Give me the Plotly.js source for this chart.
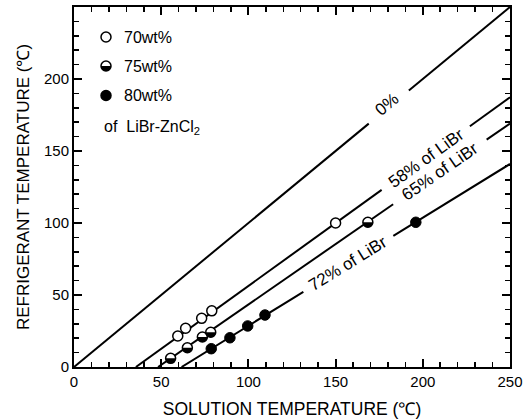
<!DOCTYPE html>
<html>
<head>
<meta charset="utf-8">
<script src="https://cdn.plot.ly/plotly-3.0.1.min.js"></script>
<style>html,body{margin:0;padding:0;background:#fff;}#chart{width:531px;height:419px;}</style>
</head>
<body>
<div id="chart"></div>
<script>
// ---- Data ----
// Equilibrium lines (solution temperature vs refrigerant temperature), null = gap for label
const line0X  = [0, 169, null, 192, 250];
const line0Y  = [0, 169, null, 192, 250];
const line58X = [35.5, 176.4, null, 227, 250];
const line58Y = [0, 123, null, 167.2, 187.3];
const line65X = [48.2, 183, null, 236.6, 250];
const line65Y = [0, 113, null, 157.9, 169];
const line72X = [61.7, 131.5, null, 183.1, 250];
const line72Y = [0, 52.2, null, 91, 141];

// Measured points
const sol70 = [59.5, 64, 73.2, 79, 150];
const ref70 = [21.5, 26.9, 33.8, 39, 100];
const sol75 = [55.4, 65, 73.6, 78.4, 168.5];
const ref75 = [6, 13.4, 20.8, 24.1, 100.5];
const sol80 = [78.7, 89.4, 99.6, 109.5, 196];
const ref80 = [12.7, 20.3, 28.5, 36.1, 100.5];

// Line labels
const lineLabels = ['0%', '58% of LiBr', '65% of LiBr', '72% of LiBr'];
const lineLabelX = [179.5, 201.7, 210, 157.3];
const lineLabelY = [182, 145.1, 135.6, 71.6];
const lineLabelAngle = [-39.5, -35.8, -34.7, -31.7];

// Legend
const legendNames = ['70wt%', '75wt%', '80wt%'];
const legendNote = 'of&nbsp; LiBr-ZnCl<sub>2</sub>';

const tickVals = [0, 50, 100, 150, 200, 250];

// ---- Build chart ----
const FONT = 'Liberation Sans, Arial, sans-serif';
const lineStyle = {color: 'black', width: 2};
const traces = [
  {x: line0X, y: line0Y, mode: 'lines', line: lineStyle, connectgaps: false, hoverinfo: 'skip'},
  {x: line58X, y: line58Y, mode: 'lines', line: lineStyle, connectgaps: false, hoverinfo: 'skip'},
  {x: line65X, y: line65Y, mode: 'lines', line: lineStyle, connectgaps: false, hoverinfo: 'skip'},
  {x: line72X, y: line72Y, mode: 'lines', line: lineStyle, connectgaps: false, hoverinfo: 'skip'},
  {x: sol70, y: ref70, mode: 'markers', name: legendNames[0],
   marker: {symbol: 'circle', size: 10, color: 'white', line: {color: 'black', width: 1.5}}},
  {x: sol75, y: ref75, mode: 'markers', name: legendNames[1],
   marker: {symbol: 'circle', size: 10, color: 'white', line: {color: 'black', width: 1.5}}},
  {x: sol80, y: ref80, mode: 'markers', name: legendNames[2],
   marker: {symbol: 'circle', size: 10.5, color: 'black', line: {color: 'black', width: 1}}}
];

function halfDiscPath(r) {
  let p = 'M ' + (-r) + ' 0';
  for (let i = 1; i <= 16; i++) {
    const t = Math.PI + Math.PI * i / 16;
    p += ' L ' + (r * Math.cos(t)).toFixed(2) + ' ' + (r * Math.sin(t)).toFixed(2);
  }
  return p + ' Z';
}

const shapes = [];
// half-filled marks for 75wt%
sol75.forEach((xv, i) => {
  shapes.push({type: 'path', xref: 'x', yref: 'y', xsizemode: 'pixel', ysizemode: 'pixel',
    xanchor: xv, yanchor: ref75[i], path: halfDiscPath(5), fillcolor: 'black',
    line: {width: 0}, layer: 'above'});
});

// manual legend (paper coords)
const PL = 74, PR = 510, PT = 7, PB = 367;
const px2x = p => (p - PL) / (PR - PL);
const py2y = p => (PB - p) / (PB - PT);
const legendYpx = [37, 66, 95.5];
const legendFill = ['white', 'white', 'black'];
legendYpx.forEach((yp, i) => {
  shapes.push({type: 'circle', xref: 'paper', yref: 'paper', xsizemode: 'pixel', ysizemode: 'pixel',
    xanchor: px2x(106), yanchor: py2y(yp), x0: -5, x1: 5, y0: -5, y1: 5,
    fillcolor: legendFill[i], line: {color: 'black', width: 1.5}, layer: 'above'});
});
shapes.push({type: 'path', xref: 'paper', yref: 'paper', xsizemode: 'pixel', ysizemode: 'pixel',
  xanchor: px2x(106), yanchor: py2y(legendYpx[1]), path: halfDiscPath(5), fillcolor: 'black',
  line: {width: 0}, layer: 'above'});

const annotations = [];
legendNames.forEach((n, i) => {
  annotations.push({xref: 'paper', yref: 'paper', x: px2x(122), y: py2y(legendYpx[i]),
    xanchor: 'left', yanchor: 'middle', text: n, showarrow: false,
    font: {family: FONT, size: 16, color: 'black'}});
});
annotations.push({xref: 'paper', yref: 'paper', x: px2x(102), y: py2y(127),
  xanchor: 'left', yanchor: 'middle', text: legendNote, showarrow: false,
  font: {family: FONT, size: 16, color: 'black'}});

lineLabels.forEach((t, i) => {
  annotations.push({xref: 'x', yref: 'y', x: lineLabelX[i], y: lineLabelY[i], text: t,
    textangle: lineLabelAngle[i], showarrow: false, xanchor: 'center', yanchor: 'middle',
    font: {family: FONT, size: 17, color: 'black'}});
});

const axisCommon = {
  range: [0, 250], tickvals: tickVals, ticks: 'inside', ticklen: 8, tickwidth: 2, tickcolor: '#000',
  showline: true, linecolor: '#000', linewidth: 2, mirror: 'ticks', showgrid: false, zeroline: false,
  minor: {dtick: 10, ticks: 'inside', ticklen: 5, tickwidth: 1.5, tickcolor: '#000', showgrid: false},
  tickfont: {family: FONT, size: 15, color: 'black'}
};

const layout = {
  width: 531, height: 419,
  margin: {l: PL, r: 531 - PR, t: PT, b: 419 - PB},
  showlegend: false,
  xaxis: Object.assign({}, axisCommon, {
    title: {text: 'SOLUTION TEMPERATURE (℃)', font: {family: FONT, size: 17.5, color: 'black'}}
  }),
  yaxis: Object.assign({}, axisCommon, {
    title: {text: 'REFRIGERANT TEMPERATURE (℃)', font: {family: FONT, size: 17, color: 'black'}}
  }),
  shapes: shapes,
  annotations: annotations
};

Plotly.newPlot('chart', traces, layout, {staticPlot: true});
</script>
</body>
</html>
